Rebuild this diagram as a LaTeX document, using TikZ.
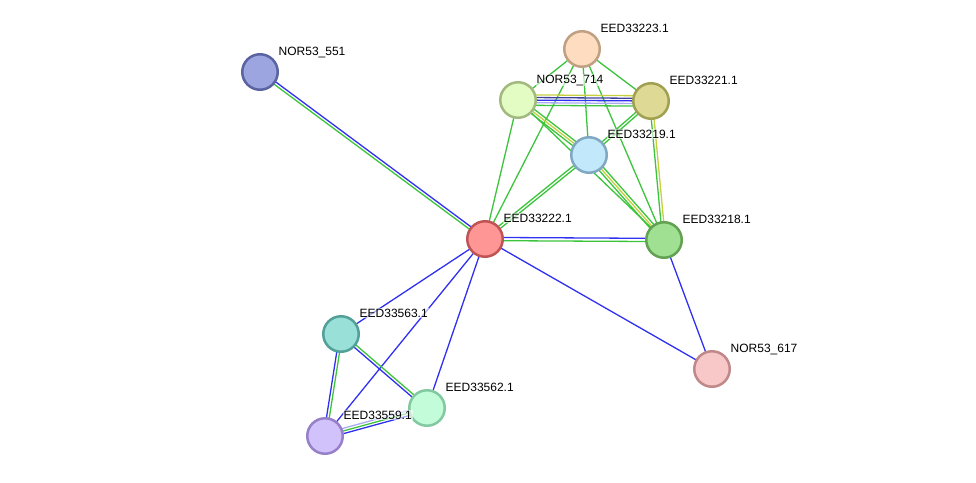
\documentclass[tikz,border=0pt]{standalone}
\usepackage{fontspec}
\setmainfont{Liberation Sans}
\usetikzlibrary{calc}
\pgfdeclarelayer{edges}
\pgfsetlayers{edges,main}

% evidence-channel line colours
\definecolor{egreen}{HTML}{3CC43C}
\definecolor{eblue}{HTML}{3030F0}
\definecolor{eyellow}{HTML}{C4D040}
\definecolor{enavy}{HTML}{40409A}
\definecolor{elav}{HTML}{ABABF2}

% protein fill / border colours
\definecolor{f551}{HTML}{9DA5E0}\definecolor{b551}{HTML}{5A64A2}
\definecolor{f223}{HTML}{FDDCBF}\definecolor{b223}{HTML}{C0A082}
\definecolor{f714}{HTML}{E2FCC4}\definecolor{b714}{HTML}{A2BA80}
\definecolor{f221}{HTML}{DEDA96}\definecolor{b221}{HTML}{A0A052}
\definecolor{f219}{HTML}{C2E8FC}\definecolor{b219}{HTML}{80A8C2}
\definecolor{f222}{HTML}{FE9696}\definecolor{b222}{HTML}{C05454}
\definecolor{f218}{HTML}{A0E092}\definecolor{b218}{HTML}{62A052}
\definecolor{f563}{HTML}{98E0D8}\definecolor{b563}{HTML}{52A098}
\definecolor{f617}{HTML}{F8C8C8}\definecolor{b617}{HTML}{C08888}
\definecolor{f562}{HTML}{C2FCD8}\definecolor{b562}{HTML}{82C8A0}
\definecolor{f559}{HTML}{D2C2FC}\definecolor{b559}{HTML}{9880C8}

\tikzset{
  prot/.style={circle, minimum size=35.5pt, inner sep=0pt, line width=2.5pt,
    fill=f#1, draw=b#1},
  plabel/.style={anchor=base west, inner sep=1pt, fill=white, fill opacity=0.6,
    text opacity=1, font=\fontsize{12}{14}\selectfont},
  link/.style={line width=1.3pt},
}

% one strand of an edge, shifted sideways by #3 from the centre line a--b
\newcommand\strand[4]{\draw[link,#4] ($(#1)!#3!90:(#2)$) -- ($(#2)!#3!-90:(#1)$);}

\begin{document}
\begin{tikzpicture}[x=1pt,y=-1pt]
\useasboundingbox (0,0) rectangle (976,482);

% proteins
\node[prot=551] (n551) at (260,72) {};
\node[prot=223] (n223) at (582,49) {};
\node[prot=714] (n714) at (518,100) {};
\node[prot=221] (n221) at (651,101) {};
\node[prot=219] (n219) at (589,155) {};
\node[prot=222] (n222) at (485,239) {};
\node[prot=218] (n218) at (664,240) {};
\node[prot=563] (n563) at (341,334) {};
\node[prot=617] (n617) at (712,369) {};
\node[prot=562] (n562) at (427,408) {};
\node[prot=559] (n559) at (325,436) {};

% names
\node[plabel] (t551) at ($(n551)+(17.5,-17)$) {NOR53\_551};
\node[plabel] (t223) at ($(n223)+(17.5,-17)$) {EED33223.1};
\node[plabel] (t714) at ($(n714)+(17.5,-17)$) {NOR53\_714};
\node[plabel] (t221) at ($(n221)+(17.5,-17)$) {EED33221.1};
\node[plabel] (t219) at ($(n219)+(17.5,-17)$) {EED33219.1};
\node[plabel] (t222) at ($(n222)+(17.5,-17)$) {EED33222.1};
\node[plabel] (t218) at ($(n218)+(17.5,-17)$) {EED33218.1};
\node[plabel] (t563) at ($(n563)+(17.5,-17)$) {EED33563.1};
\node[plabel] (t617) at ($(n617)+(17.5,-17)$) {NOR53\_617};
\node[plabel] (t562) at ($(n562)+(17.5,-17)$) {EED33562.1};
\node[plabel] (t559) at ($(n559)+(17.5,-17)$) {EED33559.1};

% interactions
\begin{pgfonlayer}{edges}
  \strand{n551}{n222}{1.4pt}{eblue}
  \strand{n551}{n222}{-1.4pt}{egreen}

  \strand{n223}{n714}{0pt}{egreen}
  \strand{n223}{n221}{0pt}{egreen}
  \strand{n223}{n219}{0pt}{egreen}
  \strand{n223}{n222}{0pt}{egreen}
  \strand{n223}{n218}{0pt}{egreen}

  \strand{n714}{n221}{5.2pt}{eyellow}
  \strand{n714}{n221}{2.6pt}{enavy}
  \strand{n714}{n221}{0pt}{eblue}
  \strand{n714}{n221}{-2.6pt}{elav}
  \strand{n714}{n221}{-5.2pt}{egreen}

  \strand{n714}{n219}{2.6pt}{egreen}
  \strand{n714}{n219}{0pt}{eyellow}
  \strand{n714}{n219}{-2.6pt}{egreen}
  \strand{n714}{n218}{0pt}{egreen}
  \strand{n714}{n222}{0pt}{egreen}

  \strand{n221}{n219}{1.4pt}{egreen}
  \strand{n221}{n219}{-1.4pt}{egreen}
  \strand{n221}{n218}{1.4pt}{eyellow}
  \strand{n221}{n218}{-1.4pt}{egreen}

  \strand{n219}{n218}{2.6pt}{egreen}
  \strand{n219}{n218}{0pt}{eyellow}
  \strand{n219}{n218}{-2.6pt}{egreen}
  \strand{n219}{n222}{1.4pt}{egreen}
  \strand{n219}{n222}{-1.4pt}{egreen}

  \strand{n222}{n218}{1.6pt}{eblue}
  \strand{n222}{n218}{-1.6pt}{egreen}
  \strand{n222}{n617}{0pt}{eblue}
  \strand{n218}{n617}{0pt}{eblue}
  \strand{n222}{n563}{0pt}{eblue}
  \strand{n222}{n559}{0pt}{eblue}
  \strand{n222}{n562}{0pt}{eblue}

  \strand{n563}{n562}{1.4pt}{egreen}
  \strand{n563}{n562}{-1.4pt}{eblue}
  \strand{n563}{n559}{1.4pt}{egreen}
  \strand{n563}{n559}{-1.4pt}{eblue}

  \strand{n559}{n562}{2.6pt}{elav}
  \strand{n559}{n562}{0pt}{egreen}
  \strand{n559}{n562}{-2.6pt}{eblue}
\end{pgfonlayer}
\end{tikzpicture}
\end{document}
